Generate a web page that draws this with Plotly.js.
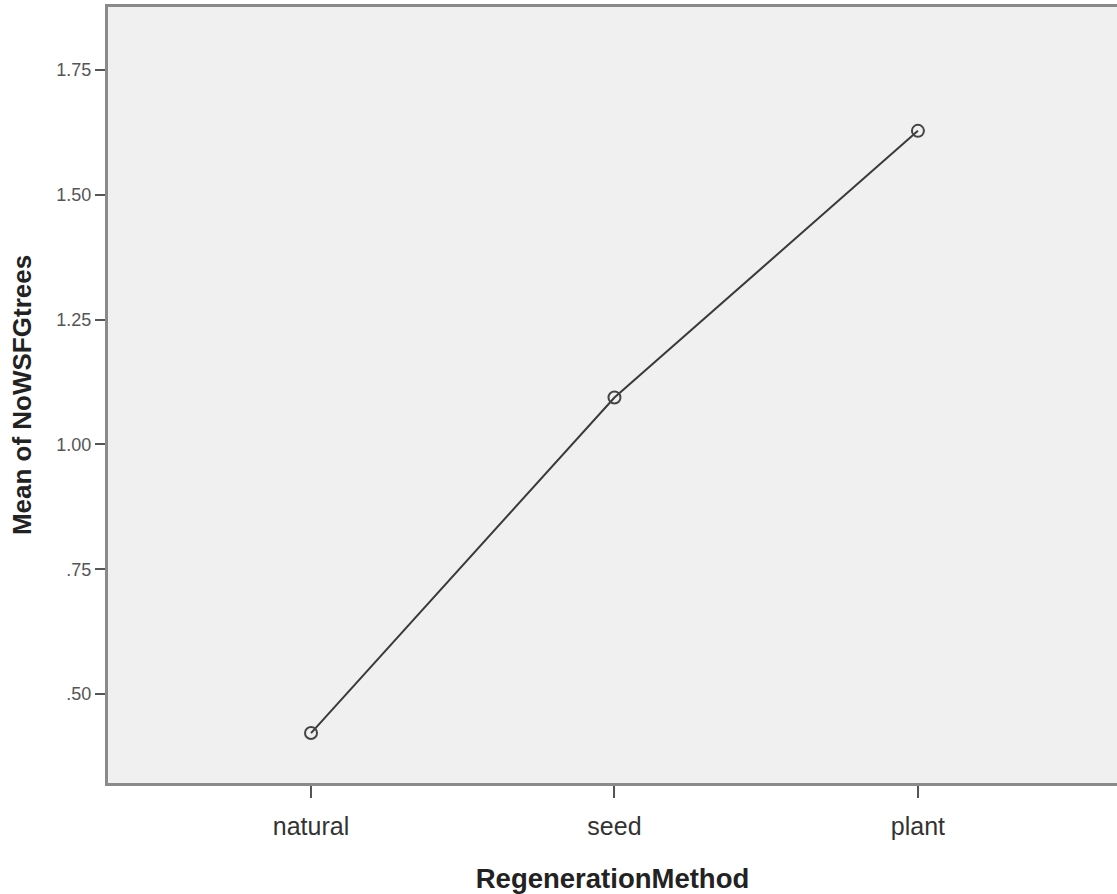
<!DOCTYPE html>
<html>
<head>
<meta charset="utf-8">
<script src="https://cdn.plot.ly/plotly-3.0.1.min.js"></script>
<style>html,body{margin:0;padding:0;background:#fff;}#chart{width:1117px;height:894px;}</style>
</head>
<body>
<div id="chart"></div>
<script>
const categories = ["natural", "seed", "plant"];
const meanValues = [0.422, 1.094, 1.628];
const yTickVals = [0.50, 0.75, 1.00, 1.25, 1.50, 1.75];
const yTickText = [".50", ".75", "1.00", "1.25", "1.50", "1.75"];

const trace = {
  x: categories,
  y: meanValues,
  type: "scatter",
  mode: "lines+markers",
  line: {color: "#3a3a3a", width: 2},
  marker: {symbol: "circle-open", size: 12, color: "#444", line: {width: 2, color: "#444"}},
  hoverinfo: "x+y"
};

const layout = {
  width: 1117,
  height: 894,
  margin: {l: 108, r: 0, t: 7, b: 111},
  paper_bgcolor: "#ffffff",
  plot_bgcolor: "#f0f0f0",
  showlegend: false,
  font: {family: "Liberation Sans, Arial, sans-serif", color: "#333"},
  xaxis: {
    type: "category",
    range: [-0.669, 2.656],
    showgrid: false,
    zeroline: false,
    showline: true,
    mirror: true,
    linecolor: "#8a8a8a",
    linewidth: 3,
    ticks: "outside",
    ticklen: 12,
    tickwidth: 2,
    tickcolor: "#555",
    ticklabelstandoff: 7,
    tickfont: {size: 25, color: "#333"},
    title: {text: "RegenerationMethod", font: {size: 27.5, color: "#222", weight: "bold"}, standoff: 32}
  },
  yaxis: {
    range: [0.322, 1.876],
    tickvals: yTickVals,
    ticktext: yTickText,
    showgrid: false,
    zeroline: false,
    showline: true,
    linecolor: "#8a8a8a",
    linewidth: 3,
    ticks: "outside",
    ticklen: 10,
    tickwidth: 2,
    tickcolor: "#555",
    tickfont: {size: 18, color: "#555"},
    title: {text: "Mean of NoWSFGtrees", font: {size: 26, color: "#222", weight: "bold"}, standoff: 18}
  }
};

Plotly.newPlot("chart", [trace], layout, {displayModeBar: false, staticPlot: true});
</script>
</body>
</html>
